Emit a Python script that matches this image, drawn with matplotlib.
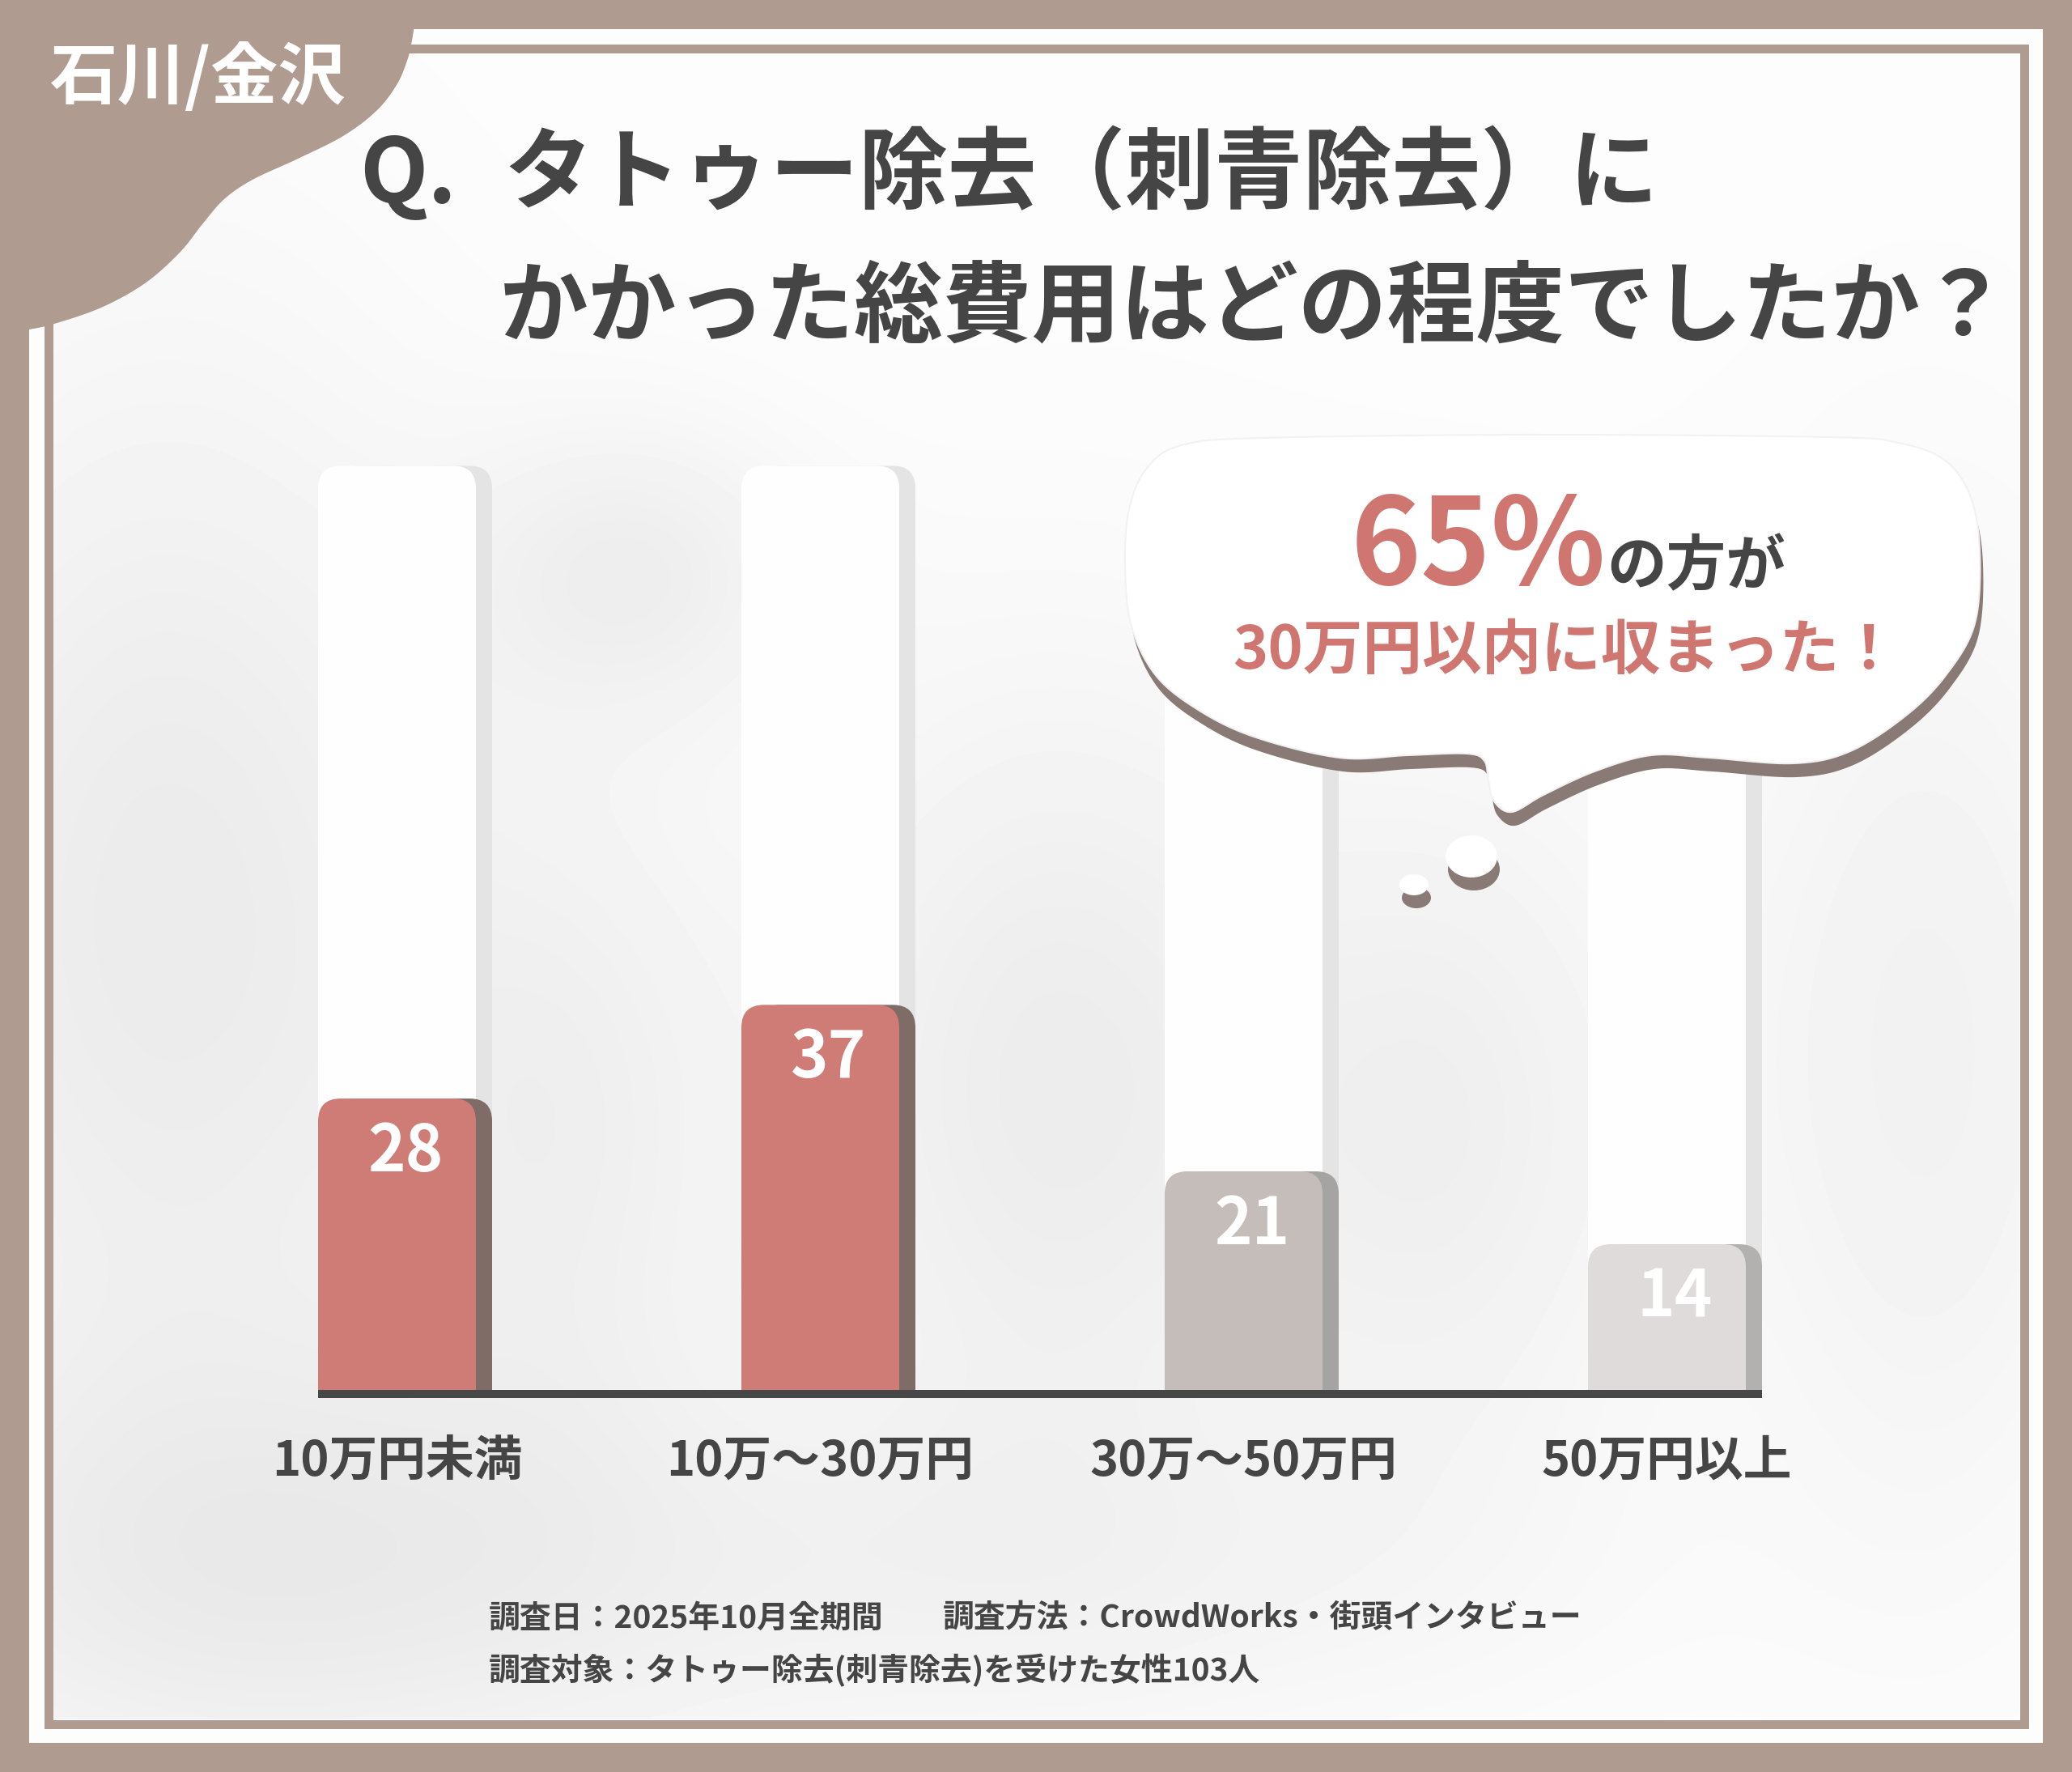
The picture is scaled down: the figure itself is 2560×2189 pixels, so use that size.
import numpy as np
import matplotlib
matplotlib.use('Agg')
import matplotlib.pyplot as plt
from matplotlib.patches import FancyBboxPatch, Rectangle, Polygon, Ellipse

plt.rcParams['font.family'] = ['Noto Sans CJK JP', 'DejaVu Sans']

# ---- data ----
categories = ['10万円未満', '10万〜30万円', '30万〜50万円', '50万円以上']
values = [28, 37, 21, 14]

region = '石川/金沢'
title_q = 'Q.'
title_line1 = 'タトゥー除去（刺青除去）に'
title_line2 = 'かかった総費用はどの程度でしたか？'
callout_tail = 'の方が'
callout_line2 = '30万円以内に収まった！'
footer_date = '調査日：2025年10月全期間'
footer_method = '調査方法：CrowdWorks・街頭インタビュー'
footer_target = '調査対象：タトゥー除去(刺青除去)を受けた女性103人'

# ---- style ----
W, H = 2560, 2189
BROWN = '#b09b90'
DARK = '#454545'
PINK = '#d07670'
SHADE = '#8a7a75'
FACE = ['#cf7b76', '#cf7b76', '#c4bdba', '#dedbda']
FACE_SHADOW = ['#806c66', '#806c66', '#a6a4a3', '#b3b1b0']
TRACK_TOP = 88.8


def catmull(pts, n=16, closed=True):
    p = np.asarray(pts, float)
    if not closed:
        p = np.vstack([p[0], p, p[-1]])
    m = len(p)
    out = []
    rng = range(m) if closed else range(1, m - 2)
    t = np.linspace(0, 1, n, endpoint=False)[:, None]
    for i in rng:
        p0, p1, p2, p3 = p[i - 1], p[i], p[(i + 1) % m], p[(i + 2) % m]
        seg = 0.5 * (2 * p1 + (-p0 + p2) * t + (2 * p0 - 5 * p1 + 4 * p2 - p3) * t ** 2
                     + (-p0 + 3 * p1 - 3 * p2 + p3) * t ** 3)
        out.append(seg)
    if not closed:
        out.append(p[-2][None, :])
    return np.vstack(out)


fig = plt.figure(figsize=(W / 100, H / 100), dpi=100)
fig.patch.set_facecolor(BROWN)

# ---- background layer: frame, texture, corner tag ----
bg = fig.add_axes([0, 0, 1, 1], zorder=0)
bg.set_xlim(0, W)
bg.set_ylim(H, 0)
bg.axis('off')
bg.add_patch(Rectangle((36, 36), W - 72, H - 72, fc='#fdfdfd', ec='none', zorder=0))

yy, xx = np.mgrid[65:2124:6, 65:2495:6]
field = np.full(xx.shape, 0.992)
for cx, cy, sx, sy, d in [(200, 1100, 260, 500, 0.06), (780, 700, 150, 130, 0.05),
                          (1300, 1350, 200, 350, 0.05), (1780, 1400, 170, 300, 0.04),
                          (2380, 1300, 160, 450, 0.035), (350, 1950, 400, 200, 0.06),
                          (1300, 1950, 450, 150, 0.03), (700, 1400, 150, 300, 0.035),
                          (1250, 1300, 1300, 450, 0.015)]:
    field -= d * np.exp(-(((xx - cx) / sx) ** 2 + ((yy - cy) / sy) ** 2) / 2)
bg.imshow(field, extent=(65, 2495, 2124, 65), cmap='gray', vmin=0, vmax=1,
          interpolation='bilinear', aspect='auto', zorder=1)
bg.set_xlim(0, W)
bg.set_ylim(H, 0)

bg.add_patch(Rectangle((59.5, 59.5), 2441, 2070, fill=False, ec=BROWN, lw=7.9, zorder=2))

tag_edge = [(512, 30), (509, 50), (503, 75), (490, 105), (465, 137), (424, 168), (366, 197),
            (312, 222), (277, 246), (250, 277), (222, 312), (179, 350), (125, 380),
            (67, 400), (36, 407), (25, 408)]
tag = np.vstack([[[0, 0], [515, 0]], catmull(tag_edge, closed=False), [[0, 410]]])
bg.add_patch(Polygon(tag, closed=True, fc=BROWN, ec='none', zorder=3))

# ---- chart ----
n = len(values)
ax = fig.add_axes([229 / W, (H - 1717) / H, 2092 / W, (1717 - 560) / H], zorder=1)
ax.set_xlim(-0.5, n - 0.5)
ax.set_ylim(0, 90)
ax.patch.set_alpha(0)
for s in ax.spines.values():
    s.set_visible(False)
ax.set_yticks([])

x0, x1 = ax.transData.transform((0, 0)), ax.transData.transform((1, 1))
sx, sy = x1[0] - x0[0], x1[1] - x0[1]
fw = 195 / sx          # bar face width
so = 20 / sx           # side shadow offset
rad = 28


def rounded(x, w, top, color, z):
    ext = 2 * rad / sy
    ax.add_patch(FancyBboxPatch((x, -ext), w, top + ext,
                                boxstyle=f'round,pad=0,rounding_size={rad / sx}',
                                mutation_aspect=sx / sy, fc=color, ec='none', zorder=z))


for i, v in enumerate(values):
    left = i - fw / 2
    rounded(left + so, fw, TRACK_TOP, '#e4e4e4', 1)
    rounded(left, fw, TRACK_TOP, '#fefefe', 1.1)
    rounded(left + so, fw, v, FACE_SHADOW[i], 2)
    rounded(left, fw, v, FACE[i], 2.1)
    ax.annotate(str(v), (i + so / 2, v), xytext=(0, -66 * 0.72), textcoords='offset points',
                ha='center', va='center', color='white', fontsize=57, fontweight='bold', zorder=3)

ax.add_patch(Rectangle((-fw / 2, -10 / sy), n - 1 + fw + so, 10 / sy, fc='#474747', ec='none',
                       clip_on=False, zorder=4))
ax.set_xticks(range(n))
ax.set_xticklabels(categories, fontsize=43, fontweight='bold', color=DARK)
ax.tick_params(axis='x', length=0, pad=42)

# ---- overlay: title, callout, footer ----
ov = fig.add_axes([0, 0, 1, 1], zorder=2)
ov.set_xlim(0, W)
ov.set_ylim(H, 0)
ov.axis('off')
ov.patch.set_alpha(0)

ov.text(245, 97, region, fontsize=60, fontweight='bold', color='white', ha='center', va='center')
ov.text(444, 218, title_q, fontsize=79, fontweight='bold', color=DARK, ha='left', va='center')
ov.text(622, 218, title_line1, fontsize=79, fontweight='bold', color=DARK, ha='left', va='center')
ov.text(617, 382, title_line2, fontsize=79, fontweight='bold', color=DARK, ha='left', va='center')

bubble = [(1460, 550), (1560, 541), (1900, 537), (2260, 540), (2345, 547), (2402, 568),
          (2434, 612), (2446, 680), (2440, 770),
          (2405, 833), (2356, 883), (2286, 928), (2216, 943), (2111, 936), (2040, 933),
          (1970, 953), (1907, 982), (1868, 1003), (1846, 990), (1839, 965), (1834, 940),
          (1812, 931), (1739, 933), (1655, 936), (1549, 910), (1479, 876), (1427, 833),
          (1397, 770), (1390, 690), (1396, 625), (1418, 577)]
outline = catmull(bubble)
ov.add_patch(Polygon(outline + [4, 17], closed=True, fc=SHADE, ec='none', zorder=1))
ov.add_patch(Polygon(outline, closed=True, fc='white', ec='#f2f2f2', lw=1.5, zorder=2))
for cx, cy, w, h in [(1818, 1058, 64, 52), (1747, 1093, 36, 26)]:
    ov.add_patch(Ellipse((cx + 3, cy + 16), w, h, fc=SHADE, ec='none', zorder=1))
    ov.add_patch(Ellipse((cx, cy), w, h, fc='white', ec='none', zorder=2))

share = values[0] + values[1]
ov.text(1669, 722, f'{share}%', fontsize=106, fontweight='bold', color=PINK,
        ha='left', va='baseline', zorder=3)
ov.text(1985, 722, callout_tail, fontsize=53, fontweight='bold', color=DARK,
        ha='left', va='baseline', zorder=3)
ov.text(1935, 805, callout_line2, fontsize=53, fontweight='bold', color=PINK,
        ha='center', va='center', zorder=3)

ov.text(604, 1999, footer_date, fontsize=28, fontweight='bold', color=DARK, va='center')
ov.text(1165, 1999, footer_method, fontsize=28, fontweight='bold', color=DARK, va='center')
ov.text(604, 2064, footer_target, fontsize=28, fontweight='bold', color=DARK, va='center')

fig.savefig('out.png', dpi=100, facecolor=fig.get_facecolor())
